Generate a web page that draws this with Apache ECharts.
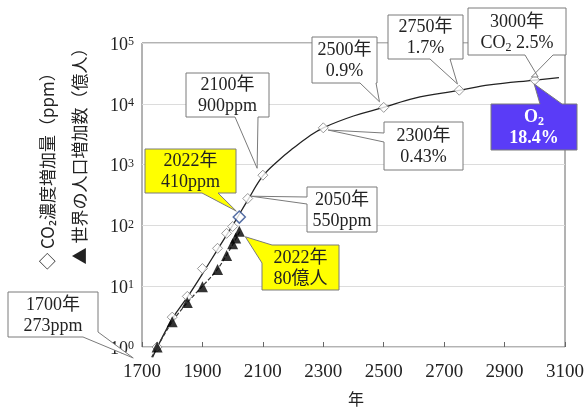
<!DOCTYPE html>
<html><head><meta charset="utf-8">
<script src="https://cdn.jsdelivr.net/npm/echarts@6/dist/echarts.min.js"></script>
<style>html,body{margin:0;padding:0;background:#fff}#c{width:587px;height:407px}</style>
</head><body><div id="c"></div>
<script>
// ---- data ----
const xTicks = [1700, 1900, 2100, 2300, 2500, 2700, 2900, 3100];
const co2Years  = [1750, 1800, 1850, 1900, 1950, 1980, 2000, 2022, 2050, 2100, 2300, 2500, 2750, 3000];
const co2Values = [1, 3.1, 6.8, 19.5, 42, 74, 96, 137, 277, 670, 4027, 8727, 16727, 24727];
const popYears  = [1750, 1800, 1850, 1900, 1950, 1980, 2000, 2010, 2022];
const popValues = [1, 2.6, 5.4, 9.8, 18.8, 32, 50, 62, 80];
const co2TrendYears  = [1735, 1800, 1850, 1900, 1950, 2000, 2050, 2100, 2150, 2200, 2250, 2300, 2400, 2500, 2600, 2750, 2850, 3000, 3080];
const co2TrendValues = [0.68, 2.9, 6.6, 16, 40, 100, 260, 650, 1150, 1850, 2850, 4030, 6300, 8700, 12300, 16600, 20400, 24500, 26900];
const popTrendYears  = [1732, 1750, 1800, 1850, 1900, 1950, 2000, 2025];
const popTrendValues = [0.68, 1, 2.6, 5.4, 10, 19, 48, 82];
const calloutTexts = [
  '1700年\n273ppm', '2100年\n900ppm', '2022年\n410ppm', '2050年\n550ppm', '2022年\n80億人',
  '2300年\n0.43%', '2500年\n0.9%', '2750年\n1.7%', '3000年\nCO{sub|2} 2.5%', 'O{sub|2}\n18.4%'
];
const yTitle1 = '◇ CO₂濃度増加量（ppm）';
const yTitle2 = '▲ 世界の人口増加数（億人）';
const xTitle = '年';

// ---- chart ----
const SERIF = "'Liberation Serif','Noto Sans CJK JP',serif";
const SANS = "'Noto Sans CJK JP','Noto Sans',sans-serif";
const zip = (a, b) => a.map((v, i) => [v, b[i]]);
const chart = echarts.init(document.getElementById('c'), null, {renderer: 'canvas'});

const co2Data = zip(co2Years, co2Values).map(p => p[0] === 2022
  ? {value: p, symbolSize: 12, itemStyle: {borderColor: '#2a4a8c', borderWidth: 1.5}} : p);

chart.setOption({
  animation: false,
  grid: {left: 142, right: 18, top: 43, bottom: 60, show: true, borderColor: '#666', borderWidth: 1},
  xAxis: {
    type: 'value', min: 1700, max: 3100,
    axisLine: {show: false}, splitLine: {show: false},
    axisTick: {show: true, inside: true, length: 5, customValues: xTicks, lineStyle: {color: '#666'}},
    axisLabel: {customValues: xTicks, formatter: v => String(v), fontFamily: SERIF, fontSize: 19, color: '#222', margin: 16}
  },
  yAxis: {
    type: 'log', logBase: 10, min: 1, max: 100000,
    axisLine: {show: false}, axisTick: {show: false},
    splitLine: {show: true, lineStyle: {color: '#dcdcdc', width: 1}},
    axisLabel: {
      margin: 8, padding: [4, 0, 0, 0],
      formatter: v => '{b|10}{s|' + Math.round(Math.log10(v)) + '}',
      rich: {
        b: {fontFamily: SERIF, fontSize: 18, color: '#222', lineHeight: 18},
        s: {fontFamily: SERIF, fontSize: 12, color: '#222', verticalAlign: 'top', lineHeight: 12}
      }
    }
  },
  series: [
    {type: 'line', data: zip(co2TrendYears, co2TrendValues), showSymbol: false, smooth: 0.4, clip: false,
     lineStyle: {color: '#222', width: 1.3}, z: 2, silent: true},
    {type: 'line', data: zip(popTrendYears, popTrendValues), showSymbol: false, smooth: 0.3, clip: false,
     lineStyle: {color: '#333', width: 1.2, type: [4, 2]}, z: 2, silent: true},
    {type: 'scatter', data: co2Data, symbol: 'diamond', symbolSize: 10,
     itemStyle: {color: '#fff', borderColor: '#808080', borderWidth: 1}, z: 4},
    {type: 'scatter', data: zip(popYears, popValues), symbol: 'triangle', symbolSize: 11,
     itemStyle: {color: '#000'}, z: 5}
  ]
});

const P = c => chart.convertToPixel({gridIndex: 0}, c);
// callout layout: box [x1,y1,x2,y2] in px, tail anchor points, tips in data coords
const layouts = [
  {box: [8, 292, 98, 337], path: b => [[b[0], b[1]], [b[2], b[1]], [b[2], 332], 'T', [83, b[3]], [b[0], b[3]]], tips: [[1671, 0.66]]},
  {box: [186, 73, 269, 117], edge: 'bottom', a: 235, b: 258, tips: [[2081, 870]]},
  {box: [145, 149, 236, 193], edge: 'bottom', a: 202, b: 218, tips: [[2012, 172]], fill: '#ffff00'},
  {box: [307, 187, 377, 232], edge: 'left', a: 197, b: 204, tips: [[2061, 302]]},
  {box: [262, 245, 339, 290], path: b => [[b[0], 263], 'T', [272, b[1]], [b[2], b[1]], [b[2], b[3]], [b[0], b[3]]], tips: [[2042, 65]], fill: '#ffff00'},
  {box: [384, 122, 463, 170], edge: 'left', a: 133, b: 142, tips: [[2316, 3700]]},
  {box: [312, 37, 377, 83], edge: 'bottom', a: 360, b: 376, tips: [[2486, 10800]]},
  {box: [388, 15, 463, 59], edge: 'bottom', a: 430, b: 450, tips: [[2744, 21200]]},
  {box: [468, 8, 566, 55], path: b => [[b[0], b[1]], [b[2], b[1]], [b[2], b[3]], [553, b[3]], 'T2', 'T', [525, b[3]], [b[0], b[3]]], tips: [[3011, 27600], [2989, 27600]]},
  {box: [491, 104, 577, 150], edge: 'top', a: 540, b: 562, tips: [[2998, 21200]], fill: '#5a3cf7', color: '#fff', bold: true}
];

function buildPath(L) {
  const b = L.box, x1 = b[0], y1 = b[1], x2 = b[2], y2 = b[3];
  let pts;
  if (L.path) pts = L.path(b);
  else if (L.edge === 'bottom') pts = [[x1, y1], [x2, y1], [x2, y2], [L.b, y2], 'T', [L.a, y2], [x1, y2]];
  else if (L.edge === 'top') pts = [[x1, y1], [L.a, y1], 'T', [L.b, y1], [x2, y1], [x2, y2], [x1, y2]];
  else if (L.edge === 'left') pts = [[x1, y1], [x2, y1], [x2, y2], [x1, y2], [x1, L.b], 'T', [x1, L.a]];
  const tipPx = L.tips.map(P);
  return pts.map(p => p === 'T' ? tipPx[0] : p === 'T2' ? tipPx[1] : p);
}

const graphics = [];
layouts.forEach((L, i) => {
  const b = L.box;
  graphics.push({type: 'polygon', z: 10, silent: true,
    shape: {points: buildPath(L)},
    style: {fill: L.fill || '#fff', stroke: '#7a7a7a', lineWidth: 1}});
  graphics.push({type: 'text', z: 11, silent: true,
    style: {x: (b[0] + b[2]) / 2, y: (b[1] + b[3]) / 2 + 1, text: calloutTexts[i],
      align: 'center', verticalAlign: 'middle', fontFamily: SERIF, fontSize: 18, lineHeight: 21,
      fontWeight: L.bold ? 'bold' : 'normal', fill: L.color || '#222',
      rich: {sub: {fontFamily: SERIF, fontSize: 12, verticalAlign: 'bottom', lineHeight: 14,
        fontWeight: L.bold ? 'bold' : 'normal', fill: L.color || '#222'}}}});
});
graphics.push({type: 'text', z: 11, silent: true, x: 48, y: 167, rotation: Math.PI / 2,
  style: {x: 0, y: 0, text: yTitle1, align: 'center', verticalAlign: 'middle', fontFamily: SANS, fontSize: 17, fill: '#222'}});
graphics.push({type: 'text', z: 11, silent: true, x: 80, y: 152, rotation: Math.PI / 2,
  style: {x: 0, y: 0, text: yTitle2, align: 'center', verticalAlign: 'middle', fontFamily: SANS, fontSize: 17, fill: '#222'}});
graphics.push({type: 'text', z: 11, silent: true,
  style: {x: 356, y: 399, text: xTitle, align: 'center', verticalAlign: 'middle', fontFamily: SANS, fontSize: 16, fill: '#222'}});
chart.setOption({graphic: graphics});
</script></body></html>
